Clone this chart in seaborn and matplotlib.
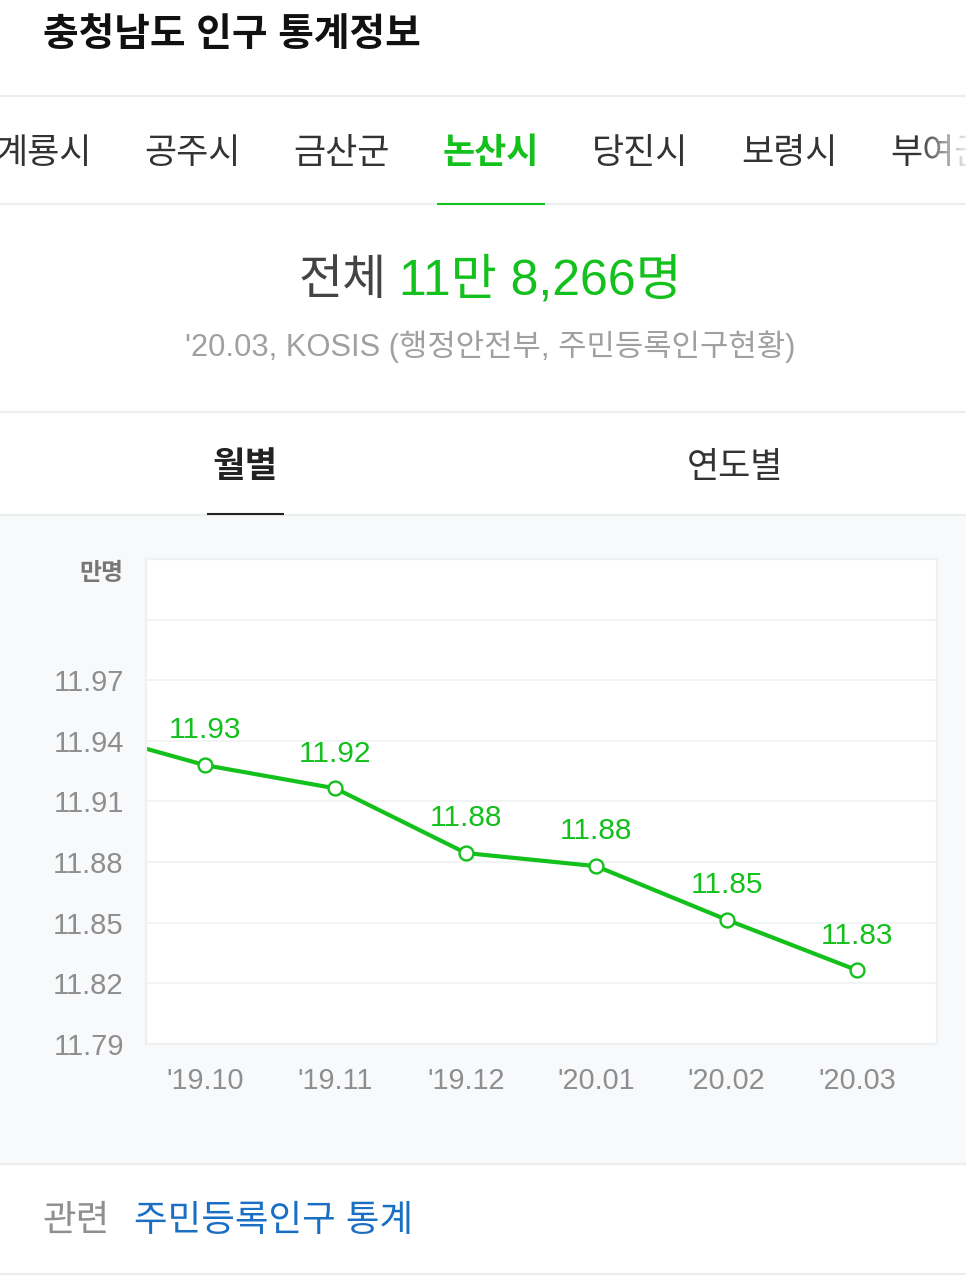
import numpy as np
import matplotlib
matplotlib.use("Agg")
import matplotlib.pyplot as plt
from matplotlib.patches import Rectangle
import seaborn as sns

# chart data, first month only shows as the line coming in from the left edge
months = ["'19.09", "'19.10", "'19.11", "'19.12", "'20.01", "'20.02", "'20.03"]
population = [11.946, 11.928, 11.9165, 11.8845, 11.878, 11.8515, 11.8265]
value_labels = ["11.93", "11.92", "11.88", "11.88", "11.85", "11.83"]
y_ticks = [11.79, 11.82, 11.85, 11.88, 11.91, 11.94, 11.97]
y_grid = [11.82, 11.85, 11.88, 11.91, 11.94, 11.97, 12.0]

tabs = ["계룡시", "공주시", "금산군", "논산시", "당진시", "보령시", "부여군"]
tab_centers = [43, 192, 341, 491, 640, 789, 938]
active_tab = "논산시"

GREEN = "#13c01c"
GRID = "#f2f3f5"
LINE = "#eceeee"
W, H = 966, 1278

sns.set_theme(style="white")
# latin and digits from Liberation Sans, hangul falls through to Noto
plt.rcParams["font.family"] = ["Liberation Sans", "Noto Sans CJK KR", "DejaVu Sans"]

fig = plt.figure(figsize=(W / 100, H / 100), dpi=100, facecolor="white")

# page behind the chart, in pixel coordinates
page = fig.add_axes([0, 0, 1, 1], zorder=0)
page.set_xlim(0, W)
page.set_ylim(H, 0)
page.axis("off")
page.add_patch(Rectangle((0, 515), W, 649, color="#f8f9fb", lw=0))
for y in [95.5, 204, 412, 514.5, 1164, 1274]:
    page.axhline(y, color=LINE, lw=1.6)
page.plot([437, 545], [204, 204], color=GREEN, lw=1.5, solid_capstyle="butt")
page.plot([207, 284], [514, 514], color="#222222", lw=1.5, solid_capstyle="butt")

page.text(43, 36, "충청남도 인구 통계정보", fontsize=27.9, fontweight="bold", color="#111111",
          ha="left", va="center")
for name, cx in zip(tabs, tab_centers):
    on = name == active_tab
    page.text(cx, 153, name, fontsize=25.2, ha="center", va="center",
              color=GREEN if on else "#333333", fontweight="bold" if on else "normal")
# fade the cut off tab at the right
fade = np.ones((1, 60, 4))
fade[..., 3] = np.linspace(0, 0.9, 60)
page.imshow(fade, extent=[916, W, 175, 125], aspect="auto", zorder=5)
page.set_xlim(0, W)
page.set_ylim(H, 0)

page.text(387, 281, "전체", fontsize=34.5, color="#444444", ha="right", va="center")
page.text(399, 281, "11만 8,266명", fontsize=36, color=GREEN, ha="left", va="center")
page.text(490, 347, "'20.03, KOSIS (행정안전부, 주민등록인구현황)", fontsize=22.2, color="#a0a0a0",
          ha="center", va="center")
page.text(245, 467, "월별", fontsize=25.5, fontweight="bold", color="#222222", ha="center", va="center")
page.text(735, 467, "연도별", fontsize=25.2, color="#333333", ha="center", va="center")
page.text(123, 573, "만명", fontsize=17.2, fontweight="bold", color="#777777", ha="right", va="center")
page.text(42, 1221, "관련", fontsize=26.3, color="#8f8f8f", ha="left", va="center")
page.text(134, 1221, "주민등록인구 통계", fontsize=26.3, color="#1a6fc4", ha="left", va="center")

# line chart
ax = fig.add_axes([146 / W, 1 - 1044 / H, (937 - 146) / W, (1044 - 559) / H], zorder=1, facecolor="white")
x_pos = np.arange(len(months)) - 1
sns.lineplot(x=x_pos, y=population, ax=ax, color=GREEN, lw=3, marker="o", markersize=10,
             markerfacecolor="white", markeredgecolor=GREEN, markeredgewidth=1.7, errorbar=None)
ax.set_xlim(-0.452, 5.613)
ax.set_ylim(11.79, 12.03)
ax.set_yticks(y_ticks)
ax.set_yticklabels([f"{v:.2f}" for v in y_ticks], fontsize=21, color="#8e8e8e")
ax.set_xticks(x_pos[1:])
ax.set_xticklabels(months[1:], fontsize=20.7, color="#8e8e8e")
ax.tick_params(axis="both", length=0)
ax.tick_params(axis="y", pad=16)
ax.tick_params(axis="x", pad=16.5)
for v in y_grid:
    ax.axhline(v, color=GRID, lw=1.4, zorder=0)
for s in ax.spines.values():
    s.set_color("#eef0f2")
    s.set_linewidth(1.6)
for xp, yv, lab in zip(x_pos[1:], population[1:], value_labels):
    ax.annotate(lab, (xp, yv), xytext=(0, 25), textcoords="offset points", fontsize=21.5,
                color=GREEN, ha="center", va="center")

fig.savefig("out.png", dpi=100)
plt.close()
